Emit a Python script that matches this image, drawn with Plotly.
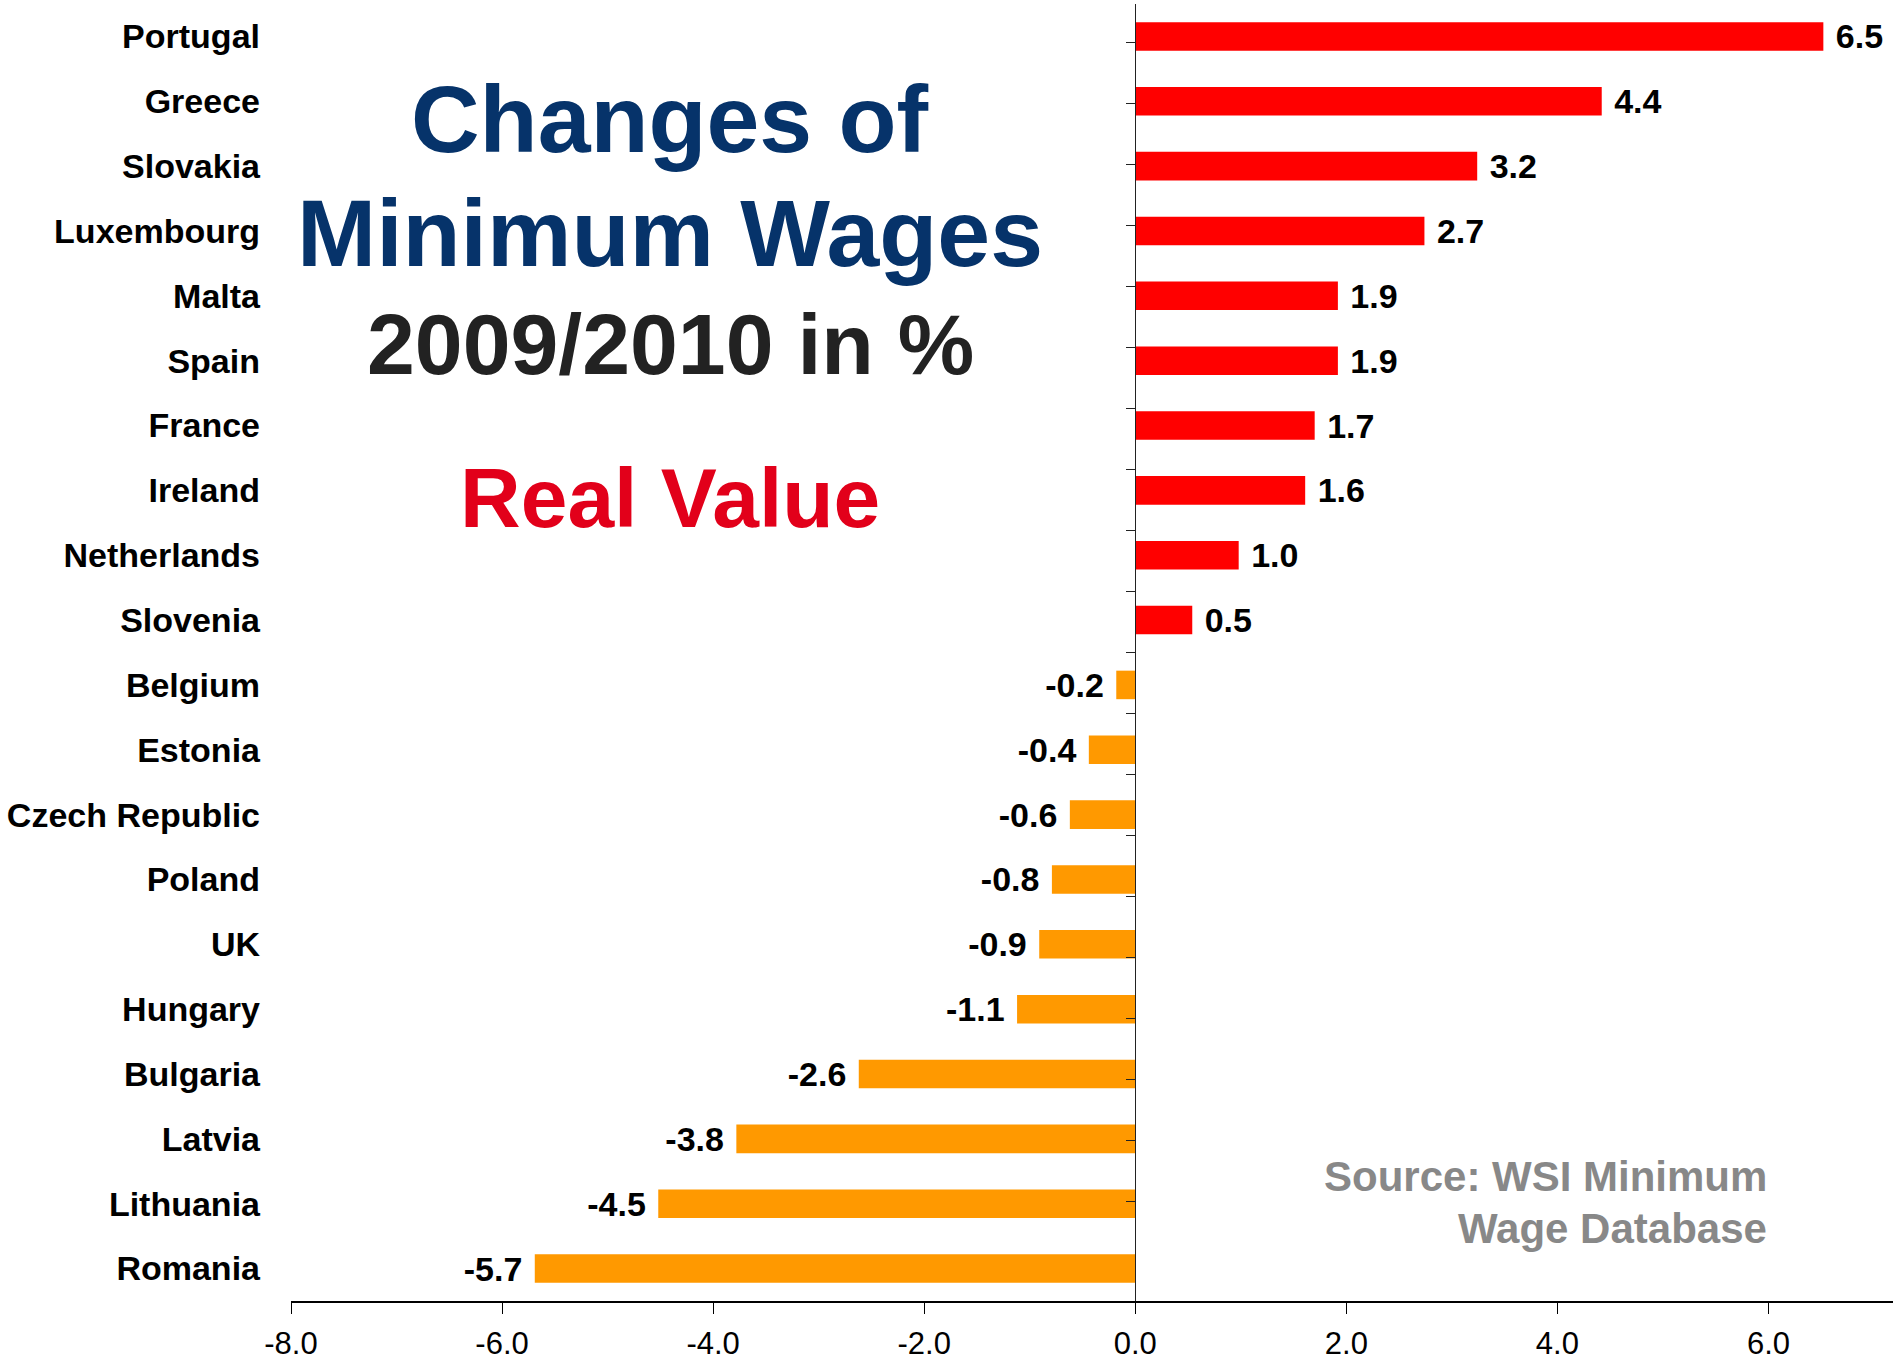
import plotly.graph_objects as go

countries = ["Portugal", "Greece", "Slovakia", "Luxembourg", "Malta", "Spain", "France",
             "Ireland", "Netherlands", "Slovenia", "Belgium", "Estonia", "Czech Republic",
             "Poland", "UK", "Hungary", "Bulgaria", "Latvia", "Lithuania", "Romania"]
values = [6.52, 4.42, 3.24, 2.74, 1.92, 1.92, 1.70, 1.61, 0.98, 0.54, -0.18, -0.44, -0.62,
          -0.79, -0.91, -1.12, -2.62, -3.78, -4.52, -5.69]
x_ticks = [-8, -6, -4, -2, 0, 2, 4, 6]
x_tick_labels = ["-8.0", "-6.0", "-4.0", "-2.0", "0.0", "2.0", "4.0", "6.0"]

POS_COLOR = "#FF0000"
NEG_COLOR = "#FF9900"
colors = [POS_COLOR if v >= 0 else NEG_COLOR for v in values]
NB = "\u00a0"
templates = [(NB + "%{x:.1f}") if v >= 0 else ("%{x:.1f}" + NB) for v in values]

W, H = 1893, 1368
ML, MR, MT, MB = 291, 0, 4, 67
XMIN, XMAX = -8.0, 7.18

BOLD = "Liberation Sans, Arial, Helvetica, sans-serif"


def px(x):
    return (x - ML) / (W - ML - MR)


def py(y):
    return (H - MB - y) / (H - MT - MB)


fig = go.Figure()
fig.add_trace(go.Bar(
    x=values, y=countries, orientation="h",
    marker=dict(color=colors, line=dict(width=0)),
    texttemplate=templates, textposition="outside", cliponaxis=False,
    constraintext="none",
    textfont=dict(family=BOLD, size=34, color="black", weight="bold"),
    width=0.44, hoverinfo="x+y", showlegend=False,
))
fig.add_trace(go.Scatter(
    x=values, y=countries, yaxis="y2", mode="markers",
    marker=dict(opacity=0), hoverinfo="skip", showlegend=False,
))

zero_pos = (0 - XMIN) / (XMAX - XMIN)

fig.update_layout(
    width=W, height=H,
    margin=dict(l=ML, r=MR, t=MT, b=MB),
    paper_bgcolor="white", plot_bgcolor="white",
    xaxis=dict(
        range=[XMIN, XMAX], tickvals=x_ticks, ticktext=x_tick_labels,
        showgrid=False, zeroline=False, showline=True, linecolor="black", linewidth=2,
        ticks="outside", ticklen=11, tickwidth=1, tickcolor="black",
        tickfont=dict(family=BOLD, size=31, color="black"),
        ticklabelstandoff=3,
    ),
    yaxis=dict(
        type="category", categoryorder="array", categoryarray=countries,
        autorange="reversed", showgrid=False, zeroline=False, showline=False,
        ticks="", tickfont=dict(family=BOLD, size=34, color="black", weight="bold"),
        ticklabelstandoff=30,
    ),
    yaxis2=dict(
        type="category", categoryorder="array", categoryarray=countries,
        autorange="reversed", overlaying="y", anchor="free", position=zero_pos,
        side="left", showticklabels=False, showgrid=False, zeroline=False,
        showline=True, linecolor="#222222", linewidth=1,
        ticks="outside", tickson="boundaries", ticklen=9, tickcolor="#222222",
    ),
    bargap=0.56,
)

title_x = px(670)
annots = [
    ("Changes of", 119, 95, "#06336A"),
    ("Minimum Wages", 233, 95, "#06336A"),
    ("2009/2010 in %", 344, 86, "#222222"),
    ("Real Value", 498, 84, "#E2001A"),
]
for txt, yc, size, col in annots:
    fig.add_annotation(
        x=title_x, y=py(yc), xref="paper", yref="paper",
        text=txt, showarrow=False, xanchor="center", yanchor="middle",
        font=dict(family=BOLD, size=size, color=col, weight="bold"),
    )

for txt, yc in [("Source: WSI Minimum", 1176), ("Wage Database", 1228)]:
    fig.add_annotation(
        x=px(1769), y=py(yc), xref="paper", yref="paper",
        text=txt, showarrow=False, xanchor="right", yanchor="middle", align="right",
        font=dict(family=BOLD, size=42, color="#888888", weight="bold"),
    )

fig.write_html(
    "out.html",
    config={"displayModeBar": False},
    post_script="document.body.style.margin='0';document.body.style.overflow='hidden';",
)
